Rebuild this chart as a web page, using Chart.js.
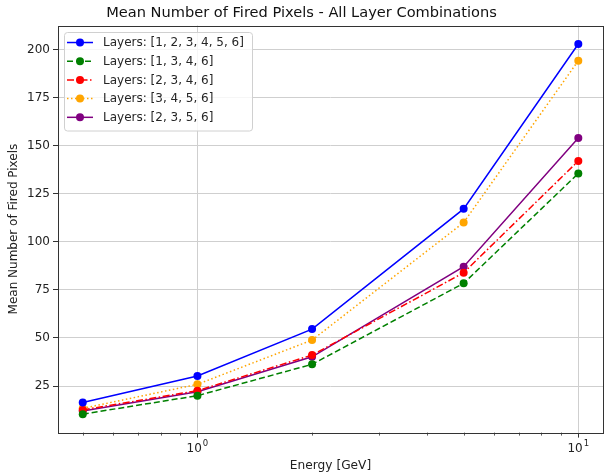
<!DOCTYPE html>
<html lang="en">
<head>
    <meta charset="UTF-8">
    <title>Mean Number of Fired Pixels</title>
    <style>
        html, body {
            margin: 0;
            padding: 0;
            background: #ffffff;
        }
        .container {
            width: 608px;
            height: 476px;
        }
    </style>
</head>
<body>
    <div class="container">
        <canvas id="myChart" width="608" height="476"></canvas>
    </div>

    <script src="https://cdn.jsdelivr.net/npm/chart.js"></script>
    <script>
        // energies in GeV
        const energies = [0.5, 1, 2, 5, 10];

        const layerNames = [
            'Layers: [1, 2, 3, 4, 5, 6]',
            'Layers: [1, 3, 4, 6]',
            'Layers: [2, 3, 4, 6]',
            'Layers: [3, 4, 5, 6]',
            'Layers: [2, 3, 5, 6]'
        ];

        // mean number of fired pixels per combination
        const pix123456 = [16.5, 30.2, 54.6, 117.1, 202.8];
        const pix1346 = [10.4, 20.0, 36.3, 78.4, 135.5];
        const pix2346 = [12.6, 22.6, 41.1, 83.9, 142.0];
        const pix3456 = [13.4, 25.9, 48.9, 110.0, 194.1];
        const pix2356 = [12.0, 22.0, 40.2, 87.0, 153.9];

        const yTicks = [25, 50, 75, 100, 125, 150, 175, 200];
        const xMajorTicks = [1, 10];
        const xMajorExp = ['0', '1'];
        const xMinorTicks = [0.5, 0.6, 0.7, 0.8, 0.9, 2, 3, 4, 5, 6, 7, 8, 9];

        const FONT = "'DejaVu Sans', sans-serif";

        function series(vals) {
            return energies.map((e, i) => ({ x: e, y: vals[i] }));
        }

        function makeDataset(label, vals, color, dash) {
            return {
                label: label,
                data: series(vals),
                borderColor: color,
                backgroundColor: color,
                borderWidth: 1.5,
                borderDash: dash,
                pointRadius: 4,
                pointHoverRadius: 4,
                pointBorderWidth: 0,
                pointBackgroundColor: color,
                tension: 0
            };
        }

        const datasets = [
            makeDataset(layerNames[0], pix123456, '#0000ff', []),
            makeDataset(layerNames[1], pix1346, '#008000', [6, 3]),
            makeDataset(layerNames[2], pix2346, '#ff0000', [7, 2.5, 1.5, 2.5]),
            makeDataset(layerNames[3], pix3456, '#ffa500', [1.5, 2.5]),
            makeDataset(layerNames[4], pix2356, '#800080', [])
        ];

        // frame, minor ticks, 10^n labels and matplotlib-like legend
        const extras = {
            id: 'extras',
            afterDraw(chart) {
                const ctx = chart.ctx;
                const a = chart.chartArea;
                const xs = chart.scales.x;

                ctx.save();
                // minor ticks
                ctx.strokeStyle = '#333333';
                ctx.lineWidth = 0.8;
                xMinorTicks.forEach(v => {
                    const px = Math.round(xs.getPixelForValue(v)) + 0.5;
                    ctx.beginPath();
                    ctx.moveTo(px, a.bottom);
                    ctx.lineTo(px, a.bottom + 3);
                    ctx.stroke();
                });

                // major labels as 10 with superscript
                ctx.fillStyle = '#222222';
                ctx.textBaseline = 'alphabetic';
                xMajorTicks.forEach((v, i) => {
                    const px = xs.getPixelForValue(v);
                    ctx.font = '12px ' + FONT;
                    const wBase = ctx.measureText('10').width;
                    ctx.font = '8.5px ' + FONT;
                    const wExp = ctx.measureText(xMajorExp[i]).width;
                    const x0 = px - (wBase + wExp + 1) / 2;
                    const base = a.bottom + 19;
                    ctx.font = '12px ' + FONT;
                    ctx.textAlign = 'left';
                    ctx.fillText('10', x0, base);
                    ctx.font = '8.5px ' + FONT;
                    ctx.fillText(xMajorExp[i], x0 + wBase + 1, base - 5.5);
                });

                // frame
                ctx.strokeStyle = '#333333';
                ctx.lineWidth = 1;
                ctx.strokeRect(Math.round(a.left) + 0.5, Math.round(a.top) + 0.5,
                    Math.round(a.right - a.left), Math.round(a.bottom - a.top));

                // legend
                const bx = a.left + 6, by = a.top + 6.5;
                const bw = 188, rowH = 18.7;
                const bh = rowH * datasets.length + 5;
                ctx.beginPath();
                ctx.roundRect(bx + 0.5, by + 0.5, bw, bh, 3);
                ctx.fillStyle = 'rgba(255,255,255,0.8)';
                ctx.fill();
                ctx.strokeStyle = '#d0d0d0';
                ctx.lineWidth = 1;
                ctx.stroke();

                ctx.font = '12px ' + FONT;
                ctx.textBaseline = 'middle';
                ctx.textAlign = 'left';
                datasets.forEach((ds, i) => {
                    const cy = by + 10.5 + i * rowH;
                    ctx.strokeStyle = ds.borderColor;
                    ctx.lineWidth = 1.5;
                    ctx.setLineDash(ds.borderDash);
                    ctx.beginPath();
                    ctx.moveTo(bx + 3, cy);
                    ctx.lineTo(bx + 29, cy);
                    ctx.stroke();
                    ctx.setLineDash([]);
                    ctx.fillStyle = ds.borderColor;
                    ctx.beginPath();
                    ctx.arc(bx + 16, cy, 4, 0, Math.PI * 2);
                    ctx.fill();
                    ctx.fillStyle = '#262626';
                    ctx.fillText(ds.label, bx + 39, cy + 0.5);
                });
                ctx.restore();
            }
        };

        new Chart(document.getElementById('myChart').getContext('2d'), {
            type: 'line',
            data: { datasets: datasets },
            options: {
                responsive: false,
                animation: false,
                devicePixelRatio: 1,
                layout: { padding: { left: 0, right: 5, top: 0, bottom: 0 } },
                plugins: {
                    legend: { display: false },
                    tooltip: { enabled: false },
                    title: {
                        display: true,
                        text: 'Mean Number of Fired Pixels - All Layer Combinations',
                        color: '#111111',
                        font: { family: FONT, size: 14.6, weight: 'normal' },
                        padding: { top: 4.5, bottom: 3.5 }
                    }
                },
                scales: {
                    x: {
                        type: 'logarithmic',
                        min: 0.4305,
                        max: 11.61,
                        afterBuildTicks(scale) {
                            scale.ticks = xMajorTicks.map(v => ({ value: v, major: true }));
                        },
                        afterFit(scale) { scale.height = 43.4; },
                        ticks: {
                            color: '#222222',
                            font: { family: FONT, size: 12 },
                            padding: 2,
                            autoSkip: false,
                            maxRotation: 0,
                            // drawn by the extras plugin with a real superscript
                            callback: () => ''
                        },
                        grid: {
                            color: '#cfcfcf',
                            lineWidth: 1,
                            tickColor: '#333333',
                            tickLength: 5
                        },
                        border: { display: false },
                        title: {
                            display: true,
                            text: 'Energy [GeV]',
                            color: '#222222',
                            font: { family: FONT, size: 12.2 },
                            padding: { top: 0, bottom: 3 }
                        }
                    },
                    y: {
                        type: 'linear',
                        min: 0.8,
                        max: 212.4,
                        afterBuildTicks(scale) {
                            scale.ticks = yTicks.map(v => ({ value: v }));
                        },
                        afterFit(scale) { scale.width = 58; },
                        ticks: {
                            color: '#222222',
                            font: { family: FONT, size: 12 },
                            padding: 3
                        },
                        grid: {
                            color: '#cfcfcf',
                            lineWidth: 1,
                            tickColor: '#333333',
                            tickLength: 5
                        },
                        border: { display: false },
                        title: {
                            display: true,
                            text: 'Mean Number of Fired Pixels',
                            color: '#222222',
                            font: { family: FONT, size: 12 },
                            padding: { top: 7, bottom: 0 }
                        }
                    }
                }
            },
            plugins: [extras]
        });
    </script>
</body>
</html>
